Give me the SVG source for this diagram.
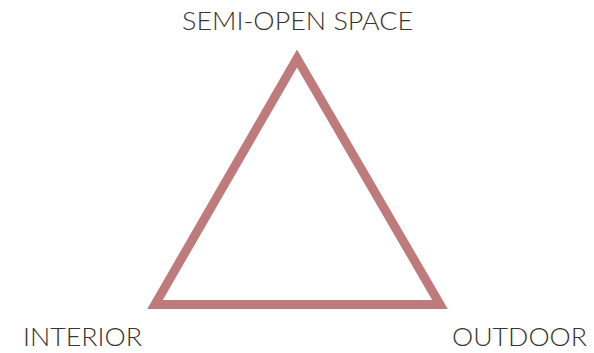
<svg xmlns="http://www.w3.org/2000/svg" width="594" height="353" viewBox="0 0 594 353">
<style>
.lbl{font-family:"Lato","Open Sans","Liberation Sans",sans-serif;font-weight:300;font-size:25px;fill:#3a3331}
.tri{fill:none;stroke:#bf7b7b;stroke-width:9;stroke-linejoin:miter;stroke-miterlimit:10}
</style>
<rect width="594" height="353" fill="#ffffff"/>
<g id="connectors">
<polygon class="tri" points="297,58.5 155,304.5 440,304.5"/>
</g>
<g id="node-semi-open"><text class="lbl" x="182" y="30" textLength="231" lengthAdjust="spacingAndGlyphs">SEMI-OPEN SPACE</text></g>
<g id="node-interior"><text class="lbl" x="23" y="346" textLength="119" lengthAdjust="spacingAndGlyphs">INTERIOR</text></g>
<g id="node-outdoor"><text class="lbl" x="452" y="346" textLength="135" lengthAdjust="spacingAndGlyphs">OUTDOOR</text></g>
</svg>
